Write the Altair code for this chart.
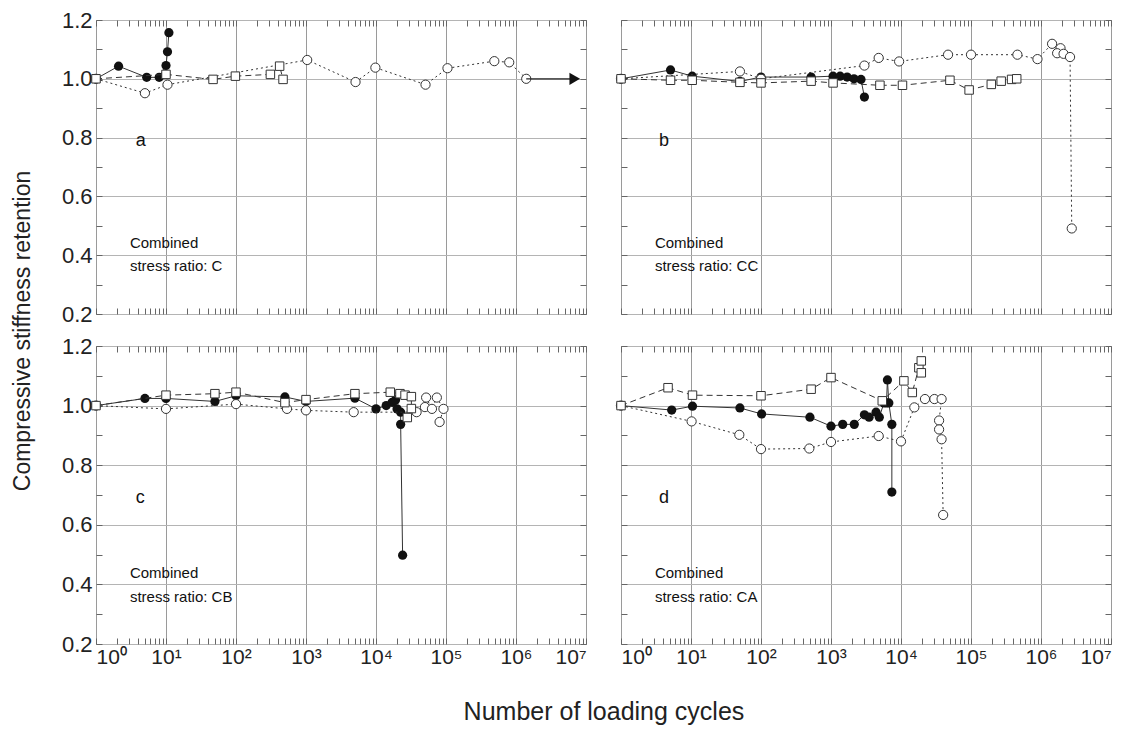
import altair as alt
import pandas as pd

FONT = "Liberation Sans"

# ---------------- data ----------------
# panel a : combined stress ratio C
a_fill_N = [1, 2.1, 5.3, 8, 10, 10.5, 11]
a_fill_v = [1.0, 1.043, 1.005, 1.005, 1.045, 1.092, 1.157]
a_circ_N = [1, 5, 10.5, 1040, 5100, 9800, 5.1e4, 1.05e5, 4.9e5, 8e5, 1.4e6]
a_circ_v = [1.0, 0.951, 0.98, 1.064, 0.989, 1.038, 0.98, 1.036, 1.06, 1.056, 1.0]
a_sq_N = [1, 10, 47, 98, 310, 420, 470]
a_sq_v = [1.0, 1.015, 0.998, 1.009, 1.015, 1.043, 0.998]
a_arrow_N = [1.4e6, 6.9e6]
a_arrow_v = [1.0, 1.0]

# panel b : combined stress ratio CC
b_fill_N = [1, 5.1, 10.4, 50, 100, 520, 1070, 1350, 1700, 2130, 2680, 3000]
b_fill_v = [1.0, 1.03, 1.009, 0.991, 1.006, 1.006, 1.009, 1.009, 1.006, 1.0, 0.998, 0.938]
b_circ_N = [1, 50, 100, 3000, 4800, 9400, 4.7e4, 1e5, 4.6e5, 8.9e5, 1.44e6, 1.9e6,
            1.7e6, 2.1e6, 2.6e6, 2.75e6]
b_circ_v = [1.0, 1.025, 1.0, 1.045, 1.071, 1.059, 1.082, 1.082, 1.082, 1.067, 1.119, 1.104,
            1.087, 1.085, 1.074, 0.491]
b_sq_N = [1, 5.1, 10.4, 50, 100, 520, 1070, 5000, 1.05e4, 5e4, 9.4e4, 1.95e5, 2.7e5,
          3.8e5, 4.5e5]
b_sq_v = [1.0, 0.995, 0.995, 0.988, 0.986, 0.992, 0.986, 0.978, 0.978, 0.995, 0.962,
          0.981, 0.992, 0.998, 1.0]

# panel c : combined stress ratio CB
c_fill_N = [1, 5, 10, 50, 100, 500, 1000, 5000, 1e4, 1.4e4, 1.7e4, 1.9e4, 2e4, 2.25e4,
            2.25e4, 2.4e4]
c_fill_v = [1.0, 1.024, 1.024, 1.014, 1.033, 1.029, 1.014, 1.025, 0.989, 1.0, 1.011,
            1.019, 0.989, 0.978, 0.937, 0.498]
c_circ_N = [1, 10, 100, 535, 1000, 4800, 3.8e4, 5e4, 5.2e4, 6.3e4, 7.4e4, 9.2e4, 8.1e4]
c_circ_v = [1.0, 0.989, 1.005, 0.989, 0.984, 0.978, 0.978, 0.995, 1.027, 0.989, 1.027,
            0.989, 0.945]
c_sq_N = [1, 10, 50, 100, 500, 1000, 5000, 1.6e4, 2.2e4, 2.6e4, 3.2e4, 3.2e4, 2.8e4]
c_sq_v = [1.0, 1.035, 1.04, 1.045, 1.01, 1.02, 1.04, 1.045, 1.04, 1.035, 1.03, 0.99, 0.96]

# panel d : combined stress ratio CA
d_fill_N = [1, 5.3, 10.5, 50, 102, 500, 1000, 1470, 2150, 3000, 3500, 4400, 4900, 5700,
            6200, 6400, 6700, 7400, 7400]
d_fill_v = [1.0, 0.985, 0.998, 0.992, 0.972, 0.961, 0.931, 0.937, 0.937, 0.969, 0.961,
            0.978, 0.961, 1.009, 1.009, 1.086, 1.009, 0.937, 0.71]
d_circ_N = [1, 10.2, 49, 100, 490, 1000, 4800, 1e4, 1.55e4, 2.2e4, 3e4, 3.8e4, 3.5e4,
            3.5e4, 3.8e4, 4e4]
d_circ_v = [1.0, 0.947, 0.902, 0.854, 0.856, 0.878, 0.898, 0.88, 0.994, 1.022, 1.022,
            1.022, 0.95, 0.92, 0.887, 0.633]
d_sq_N = [1, 4.7, 10.5, 100, 520, 1000, 5400, 1.1e4, 1.45e4, 1.8e4, 1.95e4, 1.95e4]
d_sq_v = [1.0, 1.06, 1.035, 1.033, 1.055, 1.094, 1.016, 1.083, 1.044, 1.127, 1.15, 1.11]

# annotations
panel_letters = ["a", "b", "c", "d"]
letter_N = [3.7, 3.5, 3.7, 3.5]
letter_v = [0.79, 0.79, 0.69, 0.69]
ratio_names = ["C", "CC", "CB", "CA"]
note_N = [3.05, 3.05, 3.05, 3.05]
note1_v = [0.44, 0.44, 0.437, 0.437]
note2_v = [0.363, 0.363, 0.358, 0.358]

# axis tick values
X_MAJOR = [1, 10, 100, 1000, 1e4, 1e5, 1e6, 1e7]
X_MINOR = [k * 10 ** d for d in range(7) for k in (2, 3, 4, 5, 6, 7, 8, 9)]
X_TICKS = sorted(X_MAJOR + X_MINOR)
Y_TICKS = [round(0.2 + 0.1 * i, 1) for i in range(11)]

W = 490
H_TOP, H_BOT = 294, 298

IS_DECADE = "abs(log(datum.value)/LN10 - round(log(datum.value)/LN10)) < 0.01"
X_LABEL = ("(" + IS_DECADE + ") ? '10' + ['\u2070','\u00b9','\u00b2','\u00b3','\u2074',"
           "'\u2075','\u2076','\u2077'][round(log(datum.value)/LN10)] : ''")
IS_FIFTH = "abs(datum.value*5 - round(datum.value*5)) < 0.01"
Y_LABEL = "(" + IS_FIFTH + ") ? format(datum.value, '.1f') : ''"

xscale = alt.Scale(type="log", domain=[1, 1e7])
yscale = alt.Scale(domain=[0.2, 1.2])


def series_df(N, v):
    return pd.DataFrame({"N": N, "v": v, "i": list(range(len(N)))})


def panel(idx, fill, circ, sq, top_row, left_col, height, arrow=None):
    xaxis = alt.Axis(
        orient="bottom", values=X_TICKS, labelExpr=X_LABEL, labels=not top_row,
        labelFont=FONT, labelFontSize=21, labelColor="#222", labelPadding=2,
        labelOverlap=False, title=None, domain=False, offset=-6,
        tickSize=6, tickColor="#666", tickWidth=1,
        grid=True, gridColor="#9a9a9a", gridWidth=1,
        gridOpacity={"condition": {"test": IS_DECADE, "value": 1}, "value": 0},
    )
    yaxis = alt.Axis(
        orient="left", values=Y_TICKS, labelExpr=Y_LABEL, labels=left_col,
        labelFont=FONT, labelFontSize=22, labelColor="#222", labelPadding=4,
        labelOverlap=False, title=None, domain=False, offset=-6,
        tickSize=6, tickColor="#666", tickWidth=1,
        grid=True, gridColor="#b4b4b4", gridWidth=1,
        gridOpacity={"condition": {"test": IS_FIFTH, "value": 1}, "value": 0},
    )
    X = alt.X("N:Q", scale=xscale, axis=xaxis)
    Y = alt.Y("v:Q", scale=yscale, axis=yaxis)

    layers = []
    specs = [
        (fill, "circle", True, 85, []),
        (circ, "circle", False, 85, [2, 3]),
        (sq, "square", False, 72, [6, 4]),
    ]
    for (N, v), shape, filled, size, dash in specs:
        df = series_df(N, v)
        line_kw = dict(color="#333", strokeWidth=1)
        if dash:
            line_kw["strokeDash"] = dash
        layers.append(alt.Chart(df).mark_line(**line_kw).encode(x=X, y=Y, order="i:Q"))
        pt_kw = dict(shape=shape, size=size, strokeWidth=1, opacity=1)
        if filled:
            pt_kw.update(filled=True, color="#111")
        else:
            pt_kw.update(filled=False, color="#333", fill="white", fillOpacity=1)
        layers.append(alt.Chart(df).mark_point(**pt_kw).encode(x=X, y=Y))

    if arrow is not None:
        adf = series_df(*arrow)
        layers.append(alt.Chart(adf).mark_line(color="#222", strokeWidth=1.2)
                      .encode(x=X, y=Y, order="i:Q"))
        layers.append(alt.Chart(adf.tail(1)).mark_point(
            shape="triangle-right", filled=True, color="#111", size=150, opacity=1)
            .encode(x=X, y=Y))

    # annotations
    tdf = pd.DataFrame({
        "N": [letter_N[idx], note_N[idx], note_N[idx]],
        "v": [letter_v[idx], note1_v[idx], note2_v[idx]],
        "t": [panel_letters[idx], "Combined", "stress ratio: " + ratio_names[idx]],
        "s": [18, 15, 15],
    })
    layers.append(alt.Chart(tdf).mark_text(
        align="left", baseline="middle", font=FONT, color="#111")
        .encode(x=X, y=Y, text="t:N", size=alt.Size("s:Q", scale=None, legend=None)))

    inner = alt.layer(*layers)

    # inward ticks on the top and right edges
    tick_df = series_df([1], [1.0])
    top_axis = alt.Axis(orient="top", values=X_TICKS, labels=False, title=None,
                        domain=False, grid=False, offset=-6, tickSize=6,
                        tickColor="#666")
    right_axis = alt.Axis(orient="right", values=Y_TICKS, labels=False, title=None,
                          domain=False, grid=False, offset=-6, tickSize=6,
                          tickColor="#666")
    edge = alt.Chart(tick_df).mark_point(opacity=0).encode(
        x=alt.X("N:Q", scale=xscale, axis=top_axis),
        y=alt.Y("v:Q", scale=yscale, axis=right_axis))

    return alt.layer(inner, edge).resolve_axis(x="independent", y="independent") \
        .properties(width=W, height=height)


pa = panel(0, (a_fill_N, a_fill_v), (a_circ_N, a_circ_v), (a_sq_N, a_sq_v), True, True,
           H_TOP, arrow=(a_arrow_N, a_arrow_v))
pb = panel(1, (b_fill_N, b_fill_v), (b_circ_N, b_circ_v), (b_sq_N, b_sq_v), True, False,
           H_TOP)
pc = panel(2, (c_fill_N, c_fill_v), (c_circ_N, c_circ_v), (c_sq_N, c_sq_v), False, True,
           H_BOT)
pd_ = panel(3, (d_fill_N, d_fill_v), (d_circ_N, d_circ_v), (d_sq_N, d_sq_v), False, False,
            H_BOT)

grid = alt.concat(pa, pb, pc, pd_, columns=2, bounds="flush",
                  spacing={"row": 32, "column": 35}).properties(
    title=alt.TitleParams("Compressive stiffness retention", orient="left",
                          anchor="middle", font=FONT, fontSize=23,
                          fontWeight="normal", color="#222", offset=26, dx=7))

chart = alt.vconcat(grid).properties(
    title=alt.TitleParams("Number of loading cycles", orient="bottom",
                          anchor="middle", font=FONT, fontSize=25,
                          fontWeight="normal", color="#222", offset=32, dx=42),
    padding={"left": 3, "top": 0, "right": 5, "bottom": 5},
).configure_view(stroke="#888", strokeWidth=1).configure_concat(spacing=0)

chart.save("out.html", embed_options={"renderer": "svg", "actions": False})
